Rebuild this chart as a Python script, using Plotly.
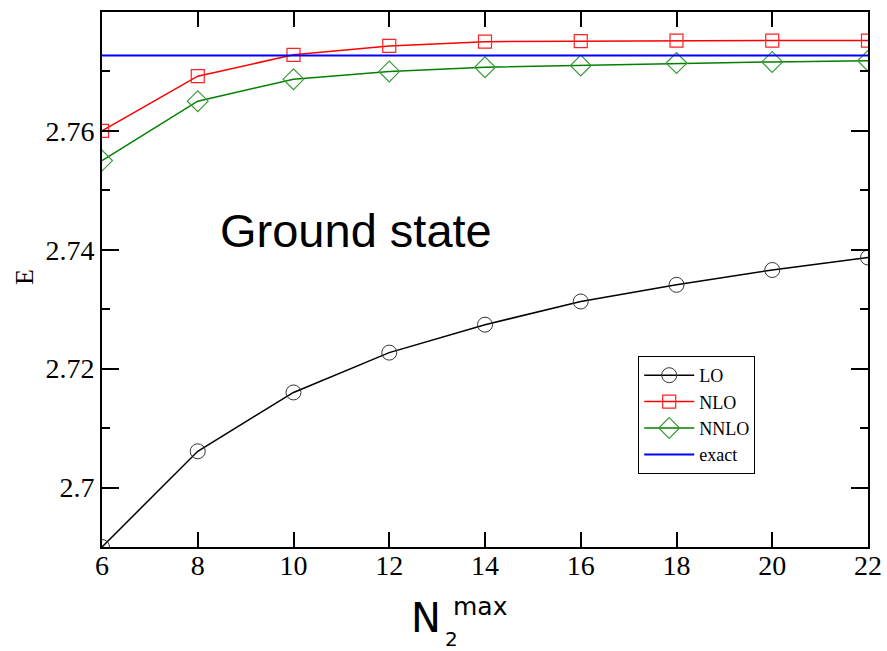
import plotly.graph_objects as go

# Truncation parameter N2max
n2max = [6, 8, 10, 12, 14, 16, 18, 20, 22]

# Ground-state energy at each order
e_lo = [2.6900, 2.7061, 2.7160, 2.7227, 2.7274, 2.7313, 2.7341, 2.7366, 2.7387]
e_nlo = [2.7600, 2.7692, 2.7728, 2.7743, 2.7750, 2.7751, 2.7752, 2.7752, 2.7752]
e_nnlo = [2.7550, 2.7650, 2.7687, 2.7700, 2.7707, 2.7710, 2.7714, 2.7716, 2.7718]
e_exact = 2.7727

y_tickvals = [2.70, 2.72, 2.74, 2.76]
y_ticktext = ["2.7", "2.72", "2.74", "2.76"]
x_tickvals = [6, 8, 10, 12, 14, 16, 18, 20, 22]

serif = "Liberation Serif, Times New Roman, serif"
sans = "DejaVu Sans, sans-serif"

fig = go.Figure()

fig.add_trace(go.Scatter(
    x=n2max, y=e_lo, name="LO", mode="lines+markers",
    line=dict(color="black", width=1.5),
    marker=dict(symbol="circle-open", size=15, color="#333333", line=dict(width=1)),
))
fig.add_trace(go.Scatter(
    x=n2max, y=e_nlo, name="NLO", mode="lines+markers",
    line=dict(color="#ff0000", width=1.5),
    marker=dict(symbol="square-open", size=13, color="#ff2020", line=dict(width=1.2)),
))
fig.add_trace(go.Scatter(
    x=n2max, y=e_nnlo, name="NNLO", mode="lines+markers",
    line=dict(color="#008000", width=1.5),
    marker=dict(symbol="diamond-open", size=16, color="#3a9a3a", line=dict(width=1.2)),
))
fig.add_trace(go.Scatter(
    x=[n2max[0], n2max[-1]], y=[e_exact, e_exact], name="exact", mode="lines",
    line=dict(color="#0000ff", width=2),
))

fig.update_layout(
    width=887, height=651,
    margin=dict(l=102, r=19, t=12, b=104),
    paper_bgcolor="white", plot_bgcolor="white",
    showlegend=True,
    legend=dict(
        x=0.70, y=0.357, xanchor="left", yanchor="top",
        bgcolor="white", bordercolor="black", borderwidth=1,
        font=dict(family=serif, size=18, color="black"),
        itemwidth=50, tracegroupgap=0,
    ),
    xaxis=dict(
        range=[6, 22], tickvals=x_tickvals, automargin=False,
        ticks="inside", ticklen=15, tickwidth=2, tickcolor="black",
        showline=True, linewidth=2, linecolor="black", mirror="ticks",
        showgrid=False, zeroline=False, ticklabelstandoff=-8,
        tickfont=dict(family=serif, size=28, color="black"),
    ),
    yaxis=dict(
        range=[2.69, 2.78], tickvals=y_tickvals, ticktext=y_ticktext, automargin=False,
        ticks="inside", ticklen=17, tickwidth=2, tickcolor="black",
        showline=True, linewidth=2, linecolor="black", mirror="ticks",
        showgrid=False, zeroline=False,
        tickfont=dict(family=serif, size=28, color="black"),
        minor=dict(tick0=2.69, dtick=0.01, ticks="inside", ticklen=8,
                   tickwidth=2, tickcolor="black", showgrid=False),
    ),
)

# Text placed in pixel terms relative to the plotting area (left 102, bottom 547)
annotations = [
    dict(text="Ground state", x=218, y=230, size=47, family="Liberation Sans, Arial, sans-serif",
         xanchor="left", angle=0),
    dict(text="E", x=24, y=277, size=26, family=serif, xanchor="center", angle=-90),
    dict(text="N", x=426, y=618, size=40, family=sans, xanchor="center", angle=0),
    dict(text="2", x=451, y=639, size=20, family=sans, xanchor="center", angle=0),
    dict(text="max", x=480, y=606, size=25, family=sans, xanchor="center", angle=0),
]
for a in annotations:
    fig.add_annotation(
        text=a["text"], xref="paper", yref="paper",
        x=(a["x"] - 102) / 766, y=(547 - a["y"]) / 535,
        xanchor=a["xanchor"], yanchor="middle",
        showarrow=False, textangle=a["angle"],
        font=dict(family=a["family"], size=a["size"], color="black"),
    )

fig.write_html("out.html")
